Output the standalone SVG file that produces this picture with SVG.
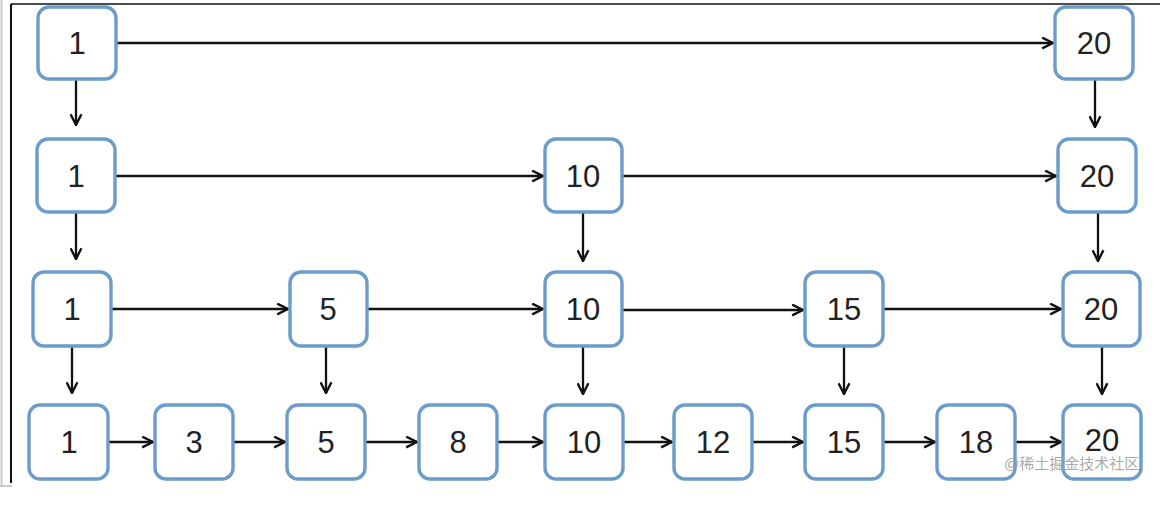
<svg xmlns="http://www.w3.org/2000/svg" width="1168" height="506" viewBox="0 0 1168 506">
<defs>
<marker id="ah" viewBox="0 0 12 12" refX="11" refY="6" markerWidth="13" markerHeight="13" markerUnits="userSpaceOnUse" orient="auto">
<path d="M1,1 L11,6 L1,11" fill="none" stroke="#111" stroke-width="2.2" stroke-linejoin="miter"/>
</marker>
<style>
.n rect{fill:#fff;stroke:#6b9ccc;stroke-width:3.4}
.n text{font-family:"Liberation Sans",Arial,sans-serif;font-size:31px;fill:#222;text-anchor:middle;dominant-baseline:central}
#connectors line{stroke:#111;stroke-width:2.3;marker-end:url(#ah)}
</style>
</defs>
<rect width="1168" height="506" fill="#fff"/>
<g id="frame">
<line x1="1.5" y1="0" x2="1.5" y2="486" stroke="#ccc" stroke-width="2"/>
<line x1="0" y1="486" x2="12" y2="486" stroke="#ccc" stroke-width="2"/>
<line x1="11" y1="4" x2="11" y2="483" stroke="#111" stroke-width="2"/>
<line x1="11" y1="4" x2="1160" y2="4" stroke="#111" stroke-width="1.5"/>
</g>
<g id="connectors">
<line x1="117" y1="43" x2="1053" y2="43"/>
<line x1="76" y1="79" x2="76" y2="125"/>
<line x1="1095" y1="79" x2="1095" y2="127"/>
<line x1="116" y1="176" x2="543" y2="176"/>
<line x1="623" y1="176" x2="1056" y2="176"/>
<line x1="76" y1="213" x2="76" y2="259"/>
<line x1="583" y1="213" x2="583" y2="261"/>
<line x1="1098" y1="213" x2="1098" y2="261"/>
<line x1="112" y1="309" x2="288" y2="309"/>
<line x1="368" y1="309" x2="543" y2="309"/>
<line x1="623" y1="310" x2="803" y2="310"/>
<line x1="884" y1="309" x2="1061" y2="309"/>
<line x1="72" y1="347" x2="72" y2="393"/>
<line x1="326" y1="347" x2="326" y2="393"/>
<line x1="583" y1="347" x2="583" y2="394"/>
<line x1="844" y1="347" x2="844" y2="394"/>
<line x1="1102" y1="347" x2="1102" y2="394"/>
<line x1="109" y1="442" x2="153" y2="442"/>
<line x1="234" y1="442" x2="285" y2="442"/>
<line x1="366" y1="442" x2="417" y2="442"/>
<line x1="498" y1="442" x2="543" y2="442"/>
<line x1="624" y1="442" x2="672" y2="442"/>
<line x1="753" y1="442" x2="803" y2="442"/>
<line x1="884" y1="442" x2="935" y2="442"/>
<line x1="1016" y1="442" x2="1061" y2="442"/>
</g>
<g id="r1n1" class="n"><rect x="38" y="7" width="78" height="72" rx="11"/><text x="77" y="43">1</text></g>
<g id="r1n20" class="n"><rect x="1055" y="7" width="78" height="72" rx="11"/><text x="1094" y="43">20</text></g>
<g id="r2n1" class="n"><rect x="37" y="139" width="78" height="73" rx="11"/><text x="76" y="176">1</text></g>
<g id="r2n10" class="n"><rect x="545" y="139" width="77" height="73" rx="11"/><text x="583" y="176">10</text></g>
<g id="r2n20" class="n"><rect x="1058" y="139" width="78" height="73" rx="11"/><text x="1097" y="176">20</text></g>
<g id="r3n1" class="n"><rect x="33" y="272" width="78" height="74" rx="11"/><text x="72" y="309">1</text></g>
<g id="r3n5" class="n"><rect x="290" y="272" width="77" height="74" rx="11"/><text x="328" y="309">5</text></g>
<g id="r3n10" class="n"><rect x="545" y="272" width="77" height="74" rx="11"/><text x="583" y="309">10</text></g>
<g id="r3n15" class="n"><rect x="805" y="272" width="78" height="74" rx="11"/><text x="844" y="309">15</text></g>
<g id="r3n20" class="n"><rect x="1063" y="272" width="77" height="74" rx="11"/><text x="1101" y="309">20</text></g>
<g id="r4n1" class="n"><rect x="29" y="405" width="79" height="74" rx="11"/><text x="69" y="442">1</text></g>
<g id="r4n3" class="n"><rect x="155" y="405" width="78" height="74" rx="11"/><text x="194" y="442">3</text></g>
<g id="r4n5" class="n"><rect x="287" y="405" width="78" height="74" rx="11"/><text x="326" y="442">5</text></g>
<g id="r4n8" class="n"><rect x="419" y="405" width="78" height="74" rx="11"/><text x="458" y="442">8</text></g>
<g id="r4n10" class="n"><rect x="545" y="405" width="78" height="74" rx="11"/><text x="584" y="442">10</text></g>
<g id="r4n12" class="n"><rect x="674" y="405" width="78" height="74" rx="11"/><text x="713" y="442">12</text></g>
<g id="r4n15" class="n"><rect x="805" y="405" width="78" height="74" rx="11"/><text x="844" y="442">15</text></g>
<g id="r4n18" class="n"><rect x="937" y="405" width="78" height="74" rx="11"/><text x="976" y="442">18</text></g>
<g id="r4n20" class="n"><rect x="1063" y="405" width="78" height="74" rx="11"/><text x="1102" y="440">20</text></g>
<text x="1004" y="469" font-family="'Liberation Sans','Noto Sans CJK SC',sans-serif" font-size="15" fill="#9a9a9a" fill-opacity="0.85">@稀土掘金技术社区</text>
</svg>
